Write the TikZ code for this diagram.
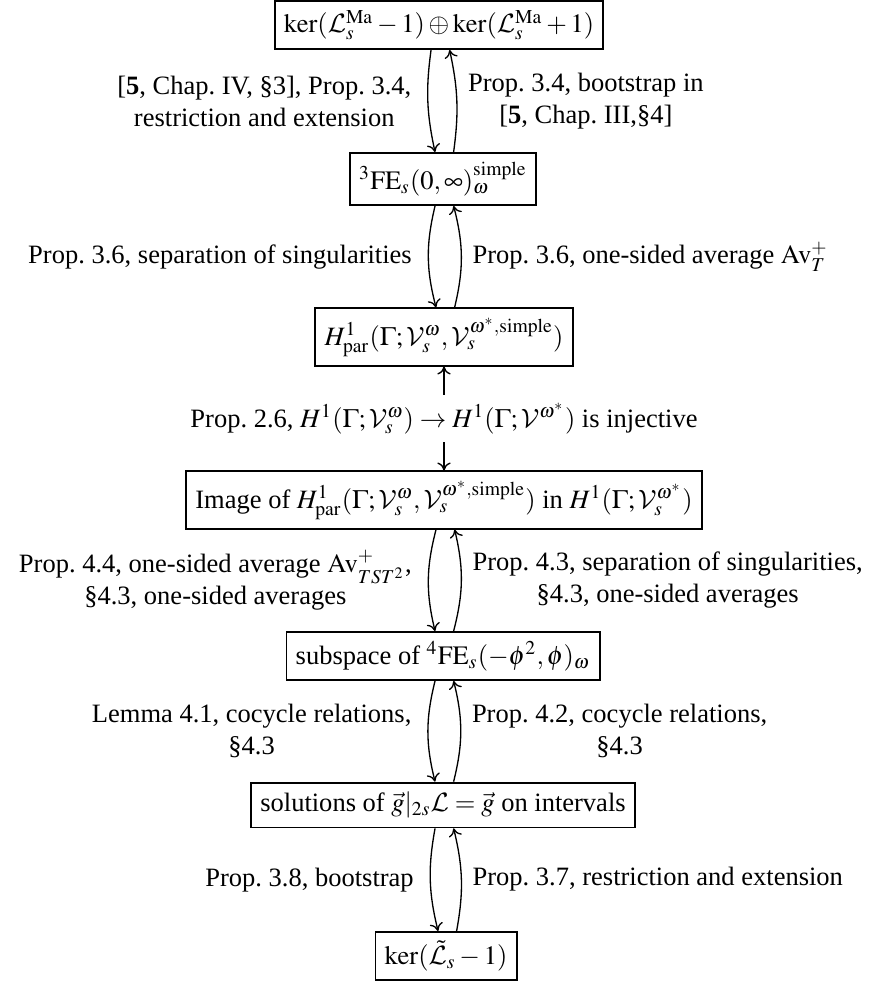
\documentclass[tikz,border=0pt]{standalone}
\usepackage{amsmath}
\usepackage{mathptmx}
\usepackage[no-math]{fontspec}
\setmainfont{Liberation Serif}
\DeclareMathAlphabet{\mathcal}{OMS}{cmsy}{m}{n}
\frenchspacing
\usetikzlibrary{calc, arrows.meta}

\begin{document}
\begin{tikzpicture}[x=0.01326cm, y=-0.01326cm, % one unit is one pixel of the target
      box/.style={draw, line width=0.7pt, inner sep=3.5pt},
      arr/.style={line width=0.5pt, -{To[length=3pt, width=5pt]}},
      lbl/.style={align=center, inner sep=2pt}]

      \useasboundingbox (0,0) rectangle (869,981);

      % Define the spaces
      \node[box] (kerMa) at (439,25) {$\ker(\mathcal{L}_s^{\mathrm{Ma}}-1)\oplus\ker(\mathcal{L}_s^{\mathrm{Ma}}+1)$};
      \node[box] (feThree) at (443,179) {${}^3\mathrm{FE}_s(0,\infty)^{\mathrm{simple}}_{\omega}$};
      \node[box] (hpar) at (444,337) {$H^1_{\mathrm{par}}(\Gamma;\mathcal{V}_s^{\omega},\mathcal{V}_s^{\omega^*,\mathrm{simple}})$};
      \node[box] (image) at (444,500) {Image of $H^1_{\mathrm{par}}(\Gamma;\mathcal{V}_s^{\omega},\mathcal{V}_s^{\omega^*,\mathrm{simple}})$ in $H^1(\Gamma;\mathcal{V}_s^{\omega^*})$};
      \node[box] (feFour) at (443,656) {subspace of ${}^4\mathrm{FE}_s(-\phi^2,\phi)_{\omega}$};
      \node[box] (sol) at (443,805) {solutions of $\vec{g}|_{2s}\mathcal{L}=\vec{g}$ on intervals};
      \node[box] (kerL) at (446,956) {$\ker(\tilde{\mathcal{L}}_s-1)$};

      % Top pair of arrows
      \draw[arr] ([xshift=-3pt]kerMa.south) to[bend right=10]
        node[left=4pt, lbl] {{[\textbf{5}, Chap. IV, \S3], Prop. 3.4,}\\ restriction and extension} ([xshift=-3pt]feThree.north);
      \draw[arr] ([xshift=4pt]feThree.north) to[bend right=10]
        node[right=2pt, lbl] {Prop. 3.4, bootstrap in\\ {[\textbf{5}, Chap. III,\S4]}} ([xshift=4pt]kerMa.south);

      % Separation of singularities / averages
      \draw[arr] ([xshift=-3pt]feThree.south) to[bend right=14]
        node[left=4pt, lbl] {Prop. 3.6, separation of singularities} ([xshift=-3pt]hpar.north);
      \draw[arr] ([xshift=4pt]hpar.north) to[bend right=14]
        node[right=2pt, lbl] {Prop. 3.6, one-sided average $\mathrm{Av}_T^+$} ([xshift=4pt]feThree.south);

      % Injectivity, arrow both ways
      \draw[line width=0.5pt, {To[length=3pt, width=5pt]}-{To[length=3pt, width=5pt]}] (hpar.south) --
        node[fill=white, inner sep=3pt] {Prop. 2.6, $H^1(\Gamma;\mathcal{V}_s^{\omega})\to H^1(\Gamma;\mathcal{V}^{\omega^*})$ is injective} (image.north);

      % Period functions of the four term equation
      \draw[arr] ([xshift=-3pt]image.south) to[bend right=14]
        node[left=4pt, lbl] {Prop. 4.4, one-sided average $\mathrm{Av}^+_{TST^2}$,\\ \S4.3, one-sided averages} ([xshift=-3pt]feFour.north);
      \draw[arr] ([xshift=4pt]feFour.north) to[bend right=14]
        node[right=2pt, lbl] {Prop. 4.3, separation of singularities,\\ \S4.3, one-sided averages} ([xshift=4pt]image.south);

      % Cocycle relations
      \draw[arr] ([xshift=-3pt]feFour.south) to[bend right=14]
        node[left=4pt, lbl] {Lemma 4.1, cocycle relations,\\ \S4.3} ([xshift=-3pt]sol.north);
      \draw[arr] ([xshift=4pt]sol.north) to[bend right=14]
        node[right=2pt, lbl] {Prop. 4.2, cocycle relations,\\ \S4.3} ([xshift=4pt]feFour.south);

      % Bottom pair
      \draw[arr] ([xshift=-3pt]sol.south) to[bend right=12]
        node[left=4pt, lbl] {Prop. 3.8, bootstrap} ([xshift=-3pt]kerL.north);
      \draw[arr] ([xshift=4pt]kerL.north) to[bend right=12]
        node[right=2pt, lbl] {Prop. 3.7, restriction and extension} ([xshift=4pt]sol.south);

    \end{tikzpicture}
\end{document}
